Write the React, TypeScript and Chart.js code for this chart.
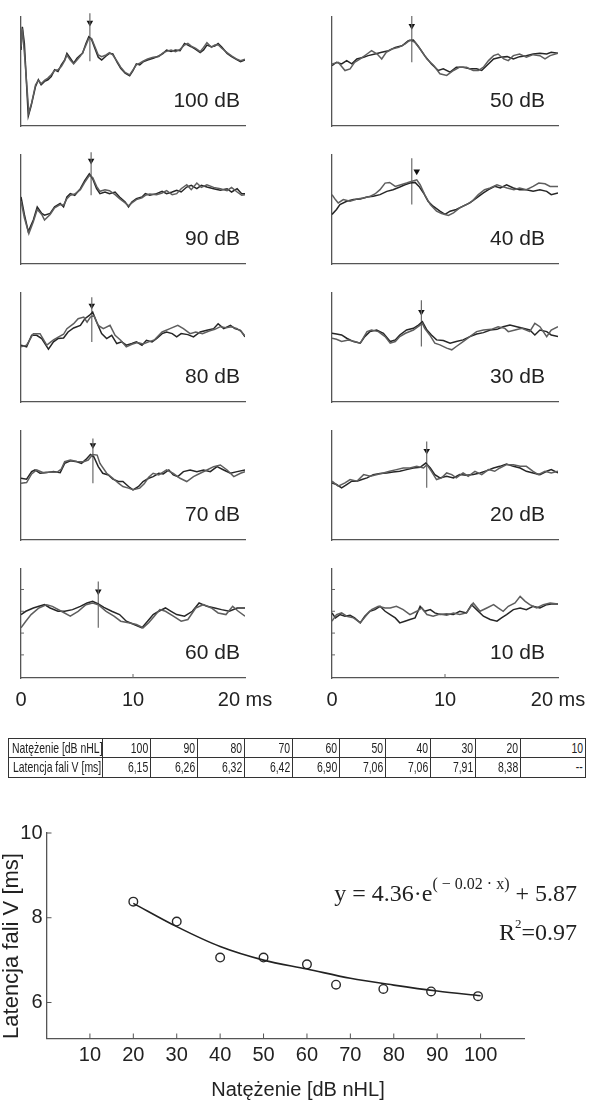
import React, { useEffect, useRef } from "react";
import { Chart, registerables } from "chart.js";

Chart.register(...registerables);

const SANS = "'Liberation Sans', Arial, Helvetica, sans-serif";
const SERIF = "'Liberation Serif', 'Times New Roman', serif";
Chart.defaults.font.family = SANS;

// ---------- ABR panels ----------
const panelLabels = ["100 dB", "90 dB", "80 dB", "70 dB", "60 dB", "50 dB", "40 dB", "30 dB", "20 dB", "10 dB"];
const waveVLatency = [6.15, 6.26, 6.32, 6.42, 6.9, 7.06, 7.06, 7.91, 8.38, null];
const markerLow = [196, 208, 182, 172, 152, 193, 180, 168, 158, null];
const markerHigh = [341, 338, 317, 307, 292, 333, 320, 308, 298, null];
const arrowX = [6.15, 6.26, 6.32, 6.42, 6.9, 7.06, 7.5, 7.91, 8.38, null];
const arrowY = [313, 313, 292, 287, 262, 303, 280, 273, 270, null];
const timeTicks = [0, 10, 20];
const innerYTicks = [70, 136, 202, 268];

const wave100a = [[0,230],[0.12,300],[0.3,250],[0.65,30],[0.9,60],[1.3,120],[1.55,140],[1.8,125],[2.1,135],[2.4,140],[2.7,150],[3.0,170],[3.3,165],[3.6,185],[3.9,200],[4.1,220],[4.4,205],[4.7,190],[5.0,205],[5.3,215],[5.5,220],[5.8,250],[6.05,270],[6.3,262],[6.6,235],[6.9,208],[7.2,200],[7.6,212],[7.9,220],[8.2,218],[8.6,192],[8.9,175],[9.3,160],[9.7,152],[10.0,168],[10.3,188],[10.6,185],[10.9,194],[11.3,200],[11.8,205],[12.3,212],[12.7,220],[13.0,230],[13.4,226],[13.8,230],[14.2,228],[14.6,250],[14.9,245],[15.2,240],[15.6,232],[16.0,222],[16.3,230],[16.6,245],[17.0,240],[17.3,242],[17.6,250],[17.9,240],[18.4,220],[18.8,210],[19.3,200],[19.6,195],[20,200]];
const wave100b = [[0,240],[0.12,295],[0.35,200],[0.7,40],[0.95,70],[1.3,125],[1.55,138],[1.8,128],[2.1,138],[2.4,145],[2.7,155],[3.0,168],[3.3,170],[3.6,180],[3.9,198],[4.1,215],[4.4,200],[4.7,188],[5.0,200],[5.3,212],[5.5,222],[5.8,245],[6.05,265],[6.3,265],[6.6,240],[6.9,215],[7.2,210],[7.6,215],[7.9,222],[8.2,215],[8.6,195],[8.9,178],[9.3,162],[9.7,155],[10.0,170],[10.3,185],[10.6,190],[10.9,196],[11.3,203],[11.8,208],[12.3,210],[12.7,222],[13.0,226],[13.4,230],[13.8,225],[14.2,232],[14.6,245],[14.9,250],[15.2,242],[15.6,235],[16.0,225],[16.3,238],[16.6,252],[17.0,238],[17.3,245],[17.6,246],[17.9,236],[18.4,222],[18.8,212],[19.3,202],[19.6,198],[20,202]];
const wave90a = [[0,203],[0.3,150],[0.65,98],[1.1,133],[1.45,173],[1.85,153],[2.1,148],[2.6,153],[3.0,173],[3.5,183],[3.8,173],[4.1,203],[4.4,213],[4.8,208],[5.3,228],[5.7,253],[6.1,273],[6.4,258],[6.75,228],[7.05,213],[7.5,218],[7.9,213],[8.4,218],[8.8,203],[9.3,188],[9.6,173],[9.9,188],[10.3,198],[10.8,203],[11.1,213],[11.5,208],[12.1,213],[12.6,220],[13.0,213],[13.5,218],[13.9,223],[14.3,218],[14.8,233],[15.2,238],[15.7,228],[16.1,238],[16.6,233],[17.2,228],[17.8,223],[18.4,228],[18.8,218],[19.3,228],[19.7,213],[20,213]];
const wave90b = [[0,190],[0.3,140],[0.7,92],[1.1,128],[1.45,165],[1.85,150],[2.1,133],[2.6,150],[3.0,170],[3.5,180],[3.8,178],[4.1,198],[4.4,208],[4.8,212],[5.3,225],[5.7,248],[6.1,268],[6.4,262],[6.75,235],[7.05,220],[7.5,225],[7.9,222],[8.4,210],[8.8,198],[9.3,185],[9.6,176],[9.9,185],[10.3,195],[10.8,200],[11.1,208],[11.5,212],[12.1,210],[12.6,215],[13.0,222],[13.5,210],[13.9,213],[14.3,228],[14.8,240],[15.2,225],[15.7,245],[16.1,232],[16.6,240],[17.2,232],[17.8,228],[18.4,222],[18.8,232],[19.3,218],[19.7,208],[20,210]];
const wave80a = [[0,172],[0.5,167],[0.95,202],[1.4,202],[1.85,192],[2.45,160],[2.9,182],[3.3,192],[3.8,194],[4.2,212],[4.7,224],[5.3,232],[5.7,252],[6.1,262],[6.4,272],[6.75,242],[7.2,207],[7.65,192],[8.1,202],[8.55,177],[9.0,182],[9.4,172],[9.9,177],[10.3,182],[10.8,172],[11.2,187],[11.7,182],[12.1,192],[12.6,207],[13.0,212],[13.5,207],[13.9,197],[14.3,207],[14.9,204],[15.4,197],[16.0,212],[16.6,217],[17.2,222],[17.6,237],[18.1,222],[18.7,232],[19.1,222],[19.6,217],[20,197]];
const wave80b = [[0,167],[0.5,172],[1.1,207],[1.7,207],[2.3,172],[2.9,188],[3.4,198],[3.8,205],[4.1,222],[4.7,237],[5.1,252],[5.6,257],[5.9,242],[6.2,257],[6.5,262],[6.9,232],[7.35,222],[7.95,232],[8.4,202],[8.9,187],[9.4,167],[9.9,175],[10.4,180],[10.9,176],[11.4,182],[11.9,188],[12.6,212],[13.3,222],[14.0,232],[14.5,222],[15.1,207],[15.6,212],[16.2,207],[16.8,215],[17.3,220],[17.8,228],[18.3,225],[18.8,228],[19.3,222],[19.7,212],[20,200]];
const wave70a = [[0,187],[0.5,184],[0.95,207],[1.25,212],[1.7,202],[2.3,204],[2.9,207],[3.5,204],[3.9,232],[4.4,240],[5.0,237],[5.4,232],[5.8,244],[6.2,259],[6.5,252],[6.9,222],[7.3,202],[7.8,197],[8.2,184],[8.7,177],[9.1,177],[9.6,162],[10.0,152],[10.5,162],[10.9,177],[11.4,187],[11.8,192],[12.3,202],[12.7,200],[13.2,212],[13.6,197],[14.0,192],[14.5,207],[15.1,212],[15.7,207],[16.3,212],[16.9,207],[17.5,222],[18.1,212],[18.7,202],[19.3,207],[20,212]];
const wave70b = [[0,172],[0.5,174],[0.95,200],[1.4,212],[2.0,204],[2.6,206],[3.2,205],[3.6,215],[3.9,237],[4.4,242],[5.0,238],[5.6,237],[6.0,242],[6.4,259],[6.8,257],[7.05,232],[7.65,202],[8.2,187],[8.7,172],[9.1,162],[9.6,157],[10.0,152],[10.6,157],[11.0,170],[11.4,190],[11.8,202],[12.3,197],[13.0,212],[13.6,202],[14.2,187],[14.8,177],[15.4,192],[16.0,202],[16.6,212],[17.2,222],[17.8,227],[18.4,212],[19.0,192],[19.6,202],[20,207]];
const wave60a = [[0,192],[0.43,202],[1.1,212],[1.6,217],[2.1,222],[2.6,212],[3.3,202],[3.9,202],[4.6,207],[5.3,217],[5.9,227],[6.4,232],[6.9,224],[7.4,214],[8.1,202],[8.8,192],[9.4,172],[10.1,162],[10.8,152],[11.3,172],[11.8,192],[12.3,202],[12.9,212],[13.4,202],[13.9,192],[14.6,187],[15.3,202],[15.9,227],[16.6,217],[17.3,212],[17.9,207],[18.6,202],[19.3,212],[20,212]];
const wave60b = [[0,152],[0.43,172],[0.9,192],[1.6,212],[2.3,222],[2.8,217],[3.6,202],[4.4,187],[5.1,202],[5.8,222],[6.4,227],[6.9,222],[7.6,202],[8.3,187],[8.9,172],[9.6,167],[10.3,162],[10.9,152],[11.4,167],[11.9,187],[12.4,207],[12.9,202],[13.6,187],[14.3,172],[14.9,177],[15.6,212],[16.3,222],[17.0,212],[17.6,197],[18.3,192],[18.9,217],[19.4,202],[20,187]];
const wave50a = [[0,183],[0.4,193],[0.85,188],[1.3,198],[1.75,188],[2.2,203],[2.8,208],[3.2,213],[3.8,218],[4.4,223],[5.0,228],[5.6,238],[6.2,243],[6.75,258],[7.2,260],[7.6,243],[8.2,213],[8.8,188],[9.4,168],[9.85,173],[10.45,163],[11.0,178],[11.6,178],[12.2,173],[12.8,173],[13.25,168],[13.7,183],[14.3,203],[14.9,208],[15.5,210],[16.05,203],[16.6,210],[17.2,213],[17.8,218],[18.4,220],[19.0,218],[19.4,223],[20,220]];
const wave50b = [[0,188],[0.55,193],[1.15,168],[1.6,173],[2.0,193],[2.5,203],[3.1,218],[3.5,228],[4.0,218],[4.4,203],[4.8,223],[5.3,233],[5.9,238],[6.45,248],[6.9,260],[7.35,253],[7.8,233],[8.4,203],[9.0,183],[9.55,158],[10.15,153],[10.75,168],[11.3,178],[11.9,178],[12.5,168],[12.95,168],[13.4,178],[13.85,198],[14.3,213],[14.7,218],[15.2,203],[15.6,198],[16.05,213],[16.6,218],[17.2,208],[17.8,216],[18.4,213],[18.85,203],[19.3,213],[20,220]];
const wave40a = [[0,150],[0.4,165],[0.7,180],[1.3,190],[1.9,195],[2.5,197],[3.1,203],[3.65,205],[4.25,210],[4.85,220],[5.4,225],[6.0,233],[6.45,240],[6.9,245],[7.35,247],[7.7,235],[8.1,215],[8.5,190],[8.95,175],[9.55,160],[10.0,150],[10.45,160],[11.0,165],[11.6,175],[12.2,185],[12.8,200],[13.4,215],[13.85,225],[14.4,235],[14.9,230],[15.45,240],[16.05,230],[16.6,225],[17.2,225],[17.8,220],[18.4,225],[19.0,220],[19.4,210],[20,215]];
const wave40b = [[0,210],[0.3,195],[0.55,185],[1.0,195],[1.6,190],[2.2,197],[2.8,200],[3.4,205],[3.8,212],[4.25,225],[4.7,245],[5.1,247],[5.6,235],[6.1,240],[6.6,245],[7.0,250],[7.5,255],[7.8,240],[8.2,210],[8.7,180],[9.25,160],[9.7,153],[10.3,147],[10.75,155],[11.3,170],[11.9,180],[12.4,190],[12.95,210],[13.5,225],[14.0,230],[14.6,240],[15.0,235],[15.5,230],[16.1,225],[16.6,230],[17.2,225],[17.8,235],[18.3,245],[18.85,243],[19.3,235],[20,235]];
const wave30a = [[0,208],[0.4,206],[0.85,203],[1.3,193],[1.9,183],[2.5,178],[2.9,198],[3.35,213],[3.95,218],[4.55,208],[5.15,183],[5.6,188],[6.0,203],[6.6,218],[7.2,223],[7.65,233],[8.0,243],[8.4,218],[8.8,203],[9.25,188],[9.85,186],[10.45,178],[11.0,183],[11.6,188],[12.2,198],[12.8,206],[13.4,210],[14.0,218],[14.6,220],[15.15,228],[15.75,233],[16.35,228],[16.9,223],[17.5,218],[17.95,203],[18.4,218],[19.0,213],[19.4,203],[20,198]];
const wave30b = [[0,193],[0.4,190],[0.85,183],[1.45,188],[2.0,183],[2.5,178],[3.1,213],[3.5,218],[4.1,213],[4.7,198],[5.15,178],[5.6,183],[6.0,198],[6.5,208],[7.2,218],[7.8,233],[8.0,238],[8.2,223],[8.65,203],[9.1,178],[9.55,173],[10.15,163],[10.6,158],[11.0,168],[11.6,183],[12.2,198],[12.8,213],[13.4,218],[14.1,220],[14.7,228],[15.3,223],[15.6,213],[16.2,218],[16.8,223],[17.5,213],[17.95,238],[18.4,228],[19.0,198],[19.4,218],[20,228]];
const wave20a = [[0,173],[0.4,168],[0.85,158],[1.3,168],[1.75,178],[2.2,178],[2.65,183],[3.1,188],[3.65,198],[4.25,201],[4.85,203],[5.4,206],[6.0,208],[6.6,213],[7.2,218],[7.8,220],[8.3,233],[8.7,218],[9.1,198],[9.55,188],[10.15,193],[10.75,188],[11.3,198],[11.9,196],[12.5,198],[13.1,203],[13.7,210],[14.3,218],[14.85,223],[15.45,230],[16.05,223],[16.65,218],[17.2,208],[17.8,203],[18.4,198],[19.0,208],[19.4,213],[20,203]];
const wave20b = [[0,178],[0.55,163],[1.15,173],[1.6,183],[2.2,178],[2.8,198],[3.4,193],[4.0,198],[4.55,203],[5.1,208],[5.7,213],[6.3,218],[6.9,218],[7.5,223],[8.1,218],[8.4,228],[8.8,208],[9.25,183],[9.7,188],[10.15,203],[10.6,198],[11.0,188],[11.6,203],[12.05,193],[12.65,208],[13.25,198],[13.85,213],[14.4,208],[14.85,218],[15.45,228],[16.05,228],[16.65,223],[17.2,223],[17.8,208],[18.25,198],[18.85,208],[19.4,203],[20,208]];
const wave10a = [[0,197],[0.3,182],[0.7,192],[1.15,187],[1.6,190],[2.0,182],[2.5,167],[2.9,187],[3.35,202],[3.8,207],[4.25,217],[4.7,202],[5.15,192],[5.6,182],[6.0,167],[6.45,172],[6.9,177],[7.35,182],[7.8,217],[8.2,202],[8.7,207],[9.1,197],[9.55,192],[10.15,194],[10.75,192],[11.3,202],[11.9,197],[12.35,222],[12.8,207],[13.4,187],[14.0,177],[14.6,172],[15.0,182],[15.45,192],[16.05,207],[16.65,212],[17.2,207],[17.8,217],[18.4,212],[19.0,222],[19.4,224],[20,224]];
const wave10b = [[0,172],[0.4,192],[0.85,197],[1.3,187],[1.9,182],[2.5,167],[3.1,192],[3.5,207],[4.1,217],[4.7,212],[5.15,212],[5.7,217],[6.3,207],[6.9,192],[7.5,202],[7.95,212],[8.4,192],[8.95,187],[9.55,194],[10.15,190],[10.75,197],[11.3,192],[11.9,197],[12.5,227],[13.1,202],[13.7,212],[14.3,222],[14.7,212],[15.15,202],[15.6,217],[16.2,227],[16.65,247],[17.1,232],[17.5,222],[18.1,212],[18.7,222],[19.3,227],[20,224]];

const wavesA = [wave100a, wave90a, wave80a, wave70a, wave60a, wave50a, wave40a, wave30a, wave20a, wave10a];
const wavesB = [wave100b, wave90b, wave80b, wave70b, wave60b, wave50b, wave40b, wave30b, wave20b, wave10b];

// ---------- table ----------
const tableIntensity = ["100", "90", "80", "70", "60", "50", "40", "30", "20", "10"];
const tableLatency = ["6,15", "6,26", "6,32", "6,42", "6,90", "7,06", "7,06", "7,91", "8,38", "--"];

// ---------- latency vs intensity ----------
const pointIntensity = [20, 30, 40, 50, 60, 66.7, 77.6, 88.6, 99.4];
const pointLatency = [8.38, 7.91, 7.06, 7.06, 6.9, 6.42, 6.32, 6.26, 6.15];
const fitIntensity = [20, 30, 40, 50, 60, 70, 80, 90, 100];
const fitLatency = [8.34, 7.79, 7.32, 7.0, 6.79, 6.57, 6.41, 6.27, 6.16];
const intensityTicks = [10, 20, 30, 40, 50, 60, 70, 80, 90, 100];
const latencyTicks = [6, 8, 10];

// ---------- layout constants ----------
const COL_LEFT = [21, 332];
const COL_W = [224, 226];
const LABEL_GAP = [5, 13];
const ROW_TOP = [17, 155, 293, 431, 569];
const AREA_H = 109;
const PAD_L = 14, PAD_T = 14, PAD_R = 30, X_H = 36;

const toXY = (pts: number[][]) => pts.map(([x, y]) => ({ x, y }));

function panelConfig(i: number): any {
  const col = i < 5 ? 0 : 1;
  const bottomRow = i % 5 === 4;
  const datasets: any[] = [
    { data: toXY(wavesB[i]), borderColor: "#5e5e5e", borderWidth: 1.5, pointRadius: 0, tension: 0, fill: false },
    { data: toXY(wavesA[i]), borderColor: "#262626", borderWidth: 1.5, pointRadius: 0, tension: 0, fill: false },
  ];
  const lat = waveVLatency[i];
  if (lat != null) {
    datasets.push({
      data: [{ x: lat, y: markerLow[i] }, { x: lat, y: markerHigh[i] }],
      borderColor: "#6a6a6a", borderWidth: 1.2, pointRadius: 0, clip: false,
    });
    datasets.push({
      data: [{ x: arrowX[i], y: arrowY[i] }], showLine: false, pointStyle: "triangle", pointRotation: 180,
      pointRadius: 3.8, pointBackgroundColor: "#111", pointBorderColor: "#111", pointBorderWidth: 0, clip: false,
    });
  }
  const deco = {
    id: "panelDeco" + i,
    afterDraw(chart: any) {
      const { ctx, chartArea, scales } = chart;
      ctx.save();
      ctx.fillStyle = "#222";
      ctx.font = `21px ${SANS}`;
      ctx.textAlign = "right";
      ctx.textBaseline = "alphabetic";
      ctx.fillText(panelLabels[i], chartArea.right - LABEL_GAP[col], chartArea.bottom - 19);
      if (bottomRow) {
        ctx.strokeStyle = "#666";
        ctx.lineWidth = 1;
        ctx.beginPath();
        const xp = scales.x.getPixelForValue(10);
        ctx.moveTo(xp, chartArea.bottom);
        ctx.lineTo(xp, chartArea.bottom - 4);
        innerYTicks.forEach((v) => {
          const yp = scales.y.getPixelForValue(v);
          ctx.moveTo(chartArea.left, yp);
          ctx.lineTo(chartArea.left + 3, yp);
        });
        ctx.stroke();
      }
      ctx.restore();
    },
  };
  return {
    type: "line",
    data: { datasets },
    options: {
      responsive: false,
      animation: false,
      devicePixelRatio: 1,
      layout: { padding: { left: PAD_L, top: PAD_T, right: PAD_R, bottom: 0 } },
      plugins: { legend: { display: false }, tooltip: { enabled: false } },
      scales: {
        x: {
          type: "linear", min: 0, max: 20,
          grid: { display: false, drawTicks: false },
          border: { display: true, color: "#555", width: 1.3 },
          afterBuildTicks: (s: any) => { s.ticks = timeTicks.map((v) => ({ value: v })); },
          ticks: {
            display: bottomRow, padding: 10, autoSkip: false, maxRotation: 0,
            font: { size: 20, family: SANS }, color: "#222",
            callback: (v: any) => (v === 20 ? "20 ms" : String(v)),
          },
          afterFit: (s: any) => { s.height = X_H; s.paddingLeft = 0; s.paddingRight = 0; },
        },
        y: {
          type: "linear", min: 0, max: 330,
          grid: { display: false, drawTicks: false },
          border: { display: true, color: "#555", width: 1.3 },
          ticks: { display: false },
          afterFit: (s: any) => { s.width = 0; s.paddingTop = 0; s.paddingBottom = 0; },
        },
      },
    },
    plugins: [deco],
  };
}

function latencyConfig(): any {
  const eq = {
    id: "equation",
    afterDraw(chart: any) {
      const { ctx, chartArea, scales } = chart;
      ctx.save();
      // inner ticks
      ctx.strokeStyle = "#555";
      ctx.lineWidth = 1;
      ctx.beginPath();
      intensityTicks.forEach((v) => {
        const xp = scales.x.getPixelForValue(v);
        ctx.moveTo(xp, chartArea.bottom);
        ctx.lineTo(xp, chartArea.bottom - 5);
      });
      latencyTicks.forEach((v) => {
        const yp = scales.y.getPixelForValue(v);
        ctx.moveTo(chartArea.left, yp);
        ctx.lineTo(chartArea.left + 5, yp);
      });
      ctx.stroke();
      // axis titles
      ctx.fillStyle = "#222";
      ctx.textAlign = "center";
      ctx.textBaseline = "middle";
      ctx.font = `20px ${SANS}`;
      ctx.fillText("Natężenie [dB nHL]", 298, chart.height - 12);
      ctx.save();
      ctx.translate(12, chartArea.top + 113);
      ctx.rotate(-Math.PI / 2);
      ctx.font = `22px ${SANS}`;
      ctx.fillText("Latencja fali V [ms]", 0, 0);
      ctx.restore();
      // equation text
      ctx.textAlign = "left";
      ctx.textBaseline = "alphabetic";
      const right = chartArea.right + 53;
      const runs = (parts: { t: string; s: number; dy: number }[], base: number) => {
        let total = 0;
        parts.forEach((p) => { ctx.font = `${p.s}px ${SERIF}`; total += ctx.measureText(p.t).width; });
        let x = right - total;
        parts.forEach((p) => {
          ctx.font = `${p.s}px ${SERIF}`;
          ctx.fillText(p.t, x, base + p.dy);
          x += ctx.measureText(p.t).width;
        });
      };
      runs([{ t: "y = 4.36·e", s: 24, dy: 0 }, { t: "( − 0.02 · x)", s: 16, dy: -12 }, { t: " + 5.87", s: 24, dy: 0 }], chartArea.top + 68);
      runs([{ t: "R", s: 24, dy: 0 }, { t: "2", s: 13, dy: -12 }, { t: "=0.97", s: 24, dy: 0 }], chartArea.top + 107);
      ctx.restore();
    },
  };
  return {
    type: "line",
    data: {
      datasets: [
        {
          data: fitIntensity.map((x, k) => ({ x, y: fitLatency[k] })),
          borderColor: "#222", borderWidth: 1.6, pointRadius: 0, cubicInterpolationMode: "monotone", fill: false,
        },
        {
          data: pointIntensity.map((x, k) => ({ x, y: pointLatency[k] })),
          showLine: false, pointRadius: 4.3, pointBorderWidth: 1.4, pointBorderColor: "#2a2a2a",
          pointBackgroundColor: "rgba(255,255,255,0)", borderColor: "#333",
        },
      ],
    },
    options: {
      responsive: false,
      animation: false,
      devicePixelRatio: 1,
      layout: { padding: { left: 0, top: 33, right: 65, bottom: 0 } },
      plugins: { legend: { display: false }, tooltip: { enabled: false } },
      scales: {
        x: {
          type: "linear", min: 0, max: 110,
          grid: { display: false, drawTicks: false },
          border: { display: true, color: "#555", width: 1.3 },
          afterBuildTicks: (s: any) => { s.ticks = intensityTicks.map((v) => ({ value: v })); },
          ticks: { padding: 5, autoSkip: false, maxRotation: 0, font: { size: 20, family: SANS }, color: "#222" },
          afterFit: (s: any) => { s.height = 63.5; s.paddingLeft = 0; s.paddingRight = 0; },
        },
        y: {
          type: "linear", min: 5.15, max: 10,
          grid: { display: false, drawTicks: false },
          border: { display: true, color: "#555", width: 1.3 },
          afterBuildTicks: (s: any) => { s.ticks = latencyTicks.map((v) => ({ value: v })); },
          ticks: { padding: 4, font: { size: 20, family: SANS }, color: "#222" },
          afterFit: (s: any) => { s.width = 46.5; s.paddingTop = 0; s.paddingBottom = 0; },
        },
      },
    },
    plugins: [eq],
  };
}

function ChartBox(props: { left: number; top: number; width: number; height: number; make: () => any }) {
  const ref = useRef<HTMLCanvasElement | null>(null);
  useEffect(() => {
    if (!ref.current) return;
    const chart = new Chart(ref.current, props.make());
    return () => chart.destroy();
  }, []);
  return (
    <canvas
      ref={ref}
      width={props.width}
      height={props.height}
      style={{ position: "absolute", left: props.left, top: props.top, width: props.width, height: props.height }}
    />
  );
}

const colWidths = [94, 48, 47, 47, 48, 47, 46, 45, 45, 45, 65];

function Squeeze(props: { text: string; origin: string }) {
  return (
    <span style={{ display: "inline-block", transform: "scaleX(0.72)", transformOrigin: props.origin, whiteSpace: "nowrap" }}>
      {props.text}
    </span>
  );
}

export default function App() {
  useEffect(() => {
    document.body.style.margin = "0";
    document.body.style.background = "#fff";
    document.body.style.overflow = "hidden";
  }, []);
  const cell: React.CSSProperties = {
    border: "1px solid #333",
    padding: "0 2px 0 2px",
    textAlign: "right",
    whiteSpace: "nowrap",
    overflow: "visible",
    lineHeight: "17px",
  };
  return (
    <div style={{ position: "relative", width: 589, height: 1102, background: "#fff", overflow: "hidden" }}>
      {panelLabels.map((_, i) => {
        const col = i < 5 ? 0 : 1;
        const row = i % 5;
        return (
          <ChartBox
            key={i}
            left={COL_LEFT[col] - PAD_L}
            top={ROW_TOP[row] - PAD_T}
            width={COL_W[col] + PAD_L + PAD_R}
            height={AREA_H + PAD_T + X_H}
            make={() => panelConfig(i)}
          />
        );
      })}
      <table
        style={{
          position: "absolute", left: 8, top: 738, width: 577, borderCollapse: "collapse", tableLayout: "fixed",
          fontFamily: SANS, fontSize: 14.5, color: "#222", border: "1.5px solid #222",
        }}
      >
        <colgroup>
          {colWidths.map((w, k) => <col key={k} style={{ width: w }} />)}
        </colgroup>
        <tbody>
          <tr style={{ height: 19 }}>
            <td style={{ ...cell, textAlign: "left", paddingLeft: 3 }}><Squeeze text="Natężenie [dB nHL]" origin="left center" /></td>
            {tableIntensity.map((v, k) => <td key={k} style={cell}><Squeeze text={v} origin="right center" /></td>)}
          </tr>
          <tr style={{ height: 20 }}>
            <td style={{ ...cell, textAlign: "left", paddingLeft: 4 }}><Squeeze text="Latencja fali V [ms]" origin="left center" /></td>
            {tableLatency.map((v, k) => <td key={k} style={cell}><Squeeze text={v} origin="right center" /></td>)}
          </tr>
        </tbody>
      </table>
      <ChartBox left={0} top={800} width={589} height={302} make={latencyConfig} />
    </div>
  );
}
